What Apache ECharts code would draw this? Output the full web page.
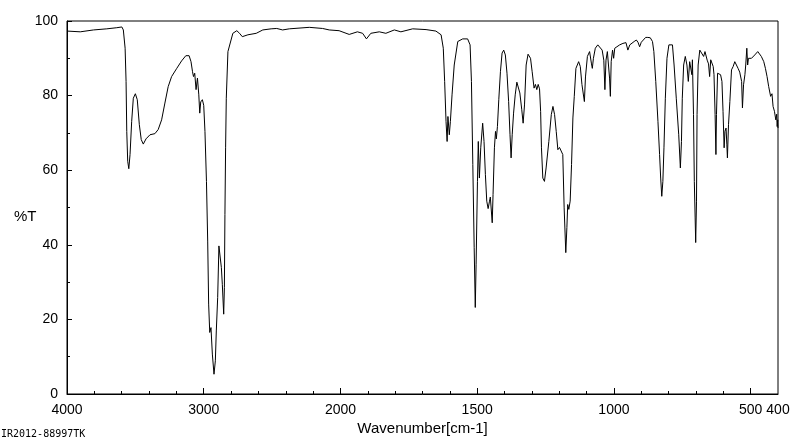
<!DOCTYPE html>
<html>
<head>
<meta charset="utf-8">
<script src="https://cdn.jsdelivr.net/npm/echarts@6/dist/echarts.min.js"></script>
<style>
  html, body { margin: 0; padding: 0; background: #fff; }
  #chart { width: 800px; height: 441px; }
</style>
</head>
<body>
<div id="chart"></div>
<script>
// IR spectrum: [wavenumber cm-1, %T]
let spectrum = [
  [4000, 97.3], [3903, 97.1], [3806, 97.6], [3709, 97.9], [3636, 98.2], [3599, 98.4],
  [3588, 97.6], [3575, 92.7], [3568, 83.8], [3563, 70.4], [3556, 62.4], [3548, 60.4],
  [3539, 64.2], [3527, 73.1], [3515, 79.3], [3500, 80.5], [3486, 78.9], [3471, 72.2],
  [3457, 68.2], [3442, 67.0], [3422, 68.4], [3393, 69.5], [3357, 69.8], [3333, 70.9],
  [3308, 73.5], [3284, 78.0], [3260, 82.4], [3235, 85.1], [3199, 87.2], [3162, 89.3],
  [3131, 90.7], [3107, 90.7], [3093, 89.1], [3082, 86.4], [3075, 85.1], [3066, 86.0],
  [3056, 81.6], [3046, 84.7], [3036, 80.2], [3029, 75.3], [3022, 78.3], [3010, 78.9],
  [3000, 77.4], [2991, 70.4], [2980, 57.0], [2971, 41.0], [2964, 24.1], [2956, 16.5],
  [2947, 17.8], [2937, 10.7], [2925, 5.3], [2915, 8.9], [2908, 16.9], [2898, 25.9],
  [2889, 39.7], [2878, 39.2], [2871, 33.9], [2864, 29.4], [2854, 21.4], [2849, 28.5],
  [2845, 48.1], [2840, 66.0], [2835, 79.3], [2823, 91.8], [2787, 96.7], [2758, 97.4],
  [2738, 96.7], [2718, 95.8], [2677, 96.3], [2616, 96.7], [2568, 97.6], [2507, 97.9],
  [2466, 98.0], [2423, 97.6], [2374, 97.9], [2228, 98.3], [2131, 98.0], [2082, 97.6],
  [2010, 97.4], [1968, 96.4], [1938, 97.1], [1919, 96.7], [1905, 95.2], [1889, 96.7],
  [1858, 97.1], [1834, 96.7], [1803, 97.6], [1779, 97.1], [1736, 97.9], [1687, 97.7],
  [1651, 97.3], [1632, 96.3], [1624, 92.7], [1619, 83.8], [1614, 73.1], [1610, 67.7],
  [1607, 74.4], [1602, 69.5], [1598, 73.1], [1592, 80.2], [1584, 88.2], [1571, 94.5],
  [1553, 95.2], [1535, 95.2], [1526, 93.6], [1521, 83.8], [1516, 61.5], [1511, 39.2],
  [1507, 23.2], [1504, 34.8], [1499, 57.0], [1496, 67.7], [1492, 57.9], [1487, 66.0],
  [1480, 72.6], [1475, 67.7], [1470, 58.8], [1465, 51.7], [1460, 49.7], [1455, 51.7],
  [1452, 52.8], [1445, 45.9], [1442, 53.5], [1437, 66.0], [1433, 70.4], [1430, 68.4],
  [1426, 71.7], [1421, 78.9], [1415, 86.4], [1409, 91.4], [1403, 92.2], [1397, 90.9],
  [1391, 86.0], [1385, 78.4], [1380, 69.5], [1376, 63.3], [1372, 69.5], [1367, 75.3],
  [1361, 80.2], [1355, 83.6], [1350, 83.8], [1344, 80.7], [1337, 76.2], [1332, 72.6],
  [1327, 77.5], [1321, 88.2], [1314, 91.1], [1305, 90.0], [1299, 86.4], [1292, 82.0],
  [1287, 83.0], [1282, 81.6], [1277, 83.0], [1272, 81.8], [1268, 75.7], [1265, 66.0],
  [1260, 57.9], [1254, 57.0], [1248, 60.6], [1238, 67.7], [1229, 74.9], [1223, 77.1],
  [1217, 74.9], [1211, 70.4], [1205, 65.5], [1199, 66.1], [1193, 66.4], [1187, 64.2],
  [1182, 49.9], [1176, 37.9], [1172, 44.6], [1169, 50.8], [1165, 49.5], [1160, 51.7],
  [1155, 61.5], [1150, 74.0], [1145, 79.8], [1139, 87.3], [1129, 89.1], [1123, 87.8],
  [1117, 83.0], [1108, 78.4], [1104, 85.0], [1097, 90.5], [1089, 91.8], [1082, 88.5],
  [1079, 87.3], [1075, 90.0], [1068, 92.7], [1059, 93.6], [1052, 93.4], [1043, 92.2],
  [1037, 89.5], [1033, 81.6], [1029, 89.5], [1024, 91.8], [1019, 91.6], [1016, 84.7],
  [1013, 79.8], [1010, 89.1], [1005, 92.2], [1001, 90.0], [997, 92.7], [989, 93.1],
  [979, 93.6], [967, 94.0], [956, 94.2], [949, 92.2], [942, 93.6], [926, 94.5],
  [918, 94.9], [912, 94.3], [906, 93.1], [900, 94.3], [884, 95.6], [876, 95.6],
  [867, 95.5], [859, 94.5], [854, 91.8], [847, 83.8], [839, 73.1], [833, 64.2],
  [829, 57.9], [825, 53.0], [821, 57.0], [817, 66.0], [812, 79.3], [806, 90.0],
  [799, 93.6], [792, 94.0], [786, 93.6], [780, 88.2], [772, 79.3], [763, 69.5],
  [757, 60.6], [753, 67.7], [750, 79.3], [745, 88.2], [739, 90.5], [733, 88.2],
  [728, 83.8], [723, 89.1], [718, 88.7], [715, 85.6], [713, 89.6], [709, 74.9],
  [706, 57.0], [703, 47.2], [701, 40.6], [698, 51.7], [696, 74.9], [692, 88.2],
  [686, 92.2], [680, 92.7], [672, 90.5], [667, 91.8], [659, 89.5], [654, 88.5],
  [650, 85.1], [646, 89.6], [641, 90.0], [637, 87.8], [634, 85.6], [630, 74.9],
  [627, 64.2], [625, 74.9], [621, 86.0], [617, 86.0], [610, 85.6], [605, 83.8],
  [601, 75.7], [597, 66.0], [594, 70.4], [590, 71.3], [587, 66.8], [585, 63.3],
  [581, 72.2], [576, 78.4], [570, 86.9], [564, 87.8], [558, 89.1], [552, 88.2],
  [546, 87.3], [540, 86.3], [533, 83.8], [530, 76.7], [526, 82.9], [521, 85.6],
  [518, 88.2], [514, 92.7], [511, 88.2], [508, 90.0], [503, 89.6], [497, 90.0],
  [485, 90.9], [474, 91.8], [467, 91.4], [461, 90.5], [452, 89.1], [446, 87.3],
  [440, 85.1], [434, 82.4], [427, 79.8], [422, 80.5], [418, 77.1], [413, 75.8],
  [408, 73.5], [405, 75.0], [403, 71.7], [401, 73.5], [400, 71.3]
]

// axis ticks (wavenumber)
let xLabels = [4000, 3000, 2000, 1500, 1000, 500, 400]
let xMajor = [4000, 3000, 2000, 1500, 1000, 500]
let xMinor = [3800, 3600, 3400, 3200, 2800, 2600, 2400, 2200,
  1900, 1800, 1700, 1600, 1400, 1300, 1200, 1100,
  900, 800, 700, 600]

// the scale doubles below 2000 cm-1
function toAxis(w) {
  return w >= 2000 ? (4000 - w) / 2 : 1000 + (2000 - w)
}
function fromAxis(t) {
  return t <= 1000 ? 4000 - 2 * t : 3000 - t
}

let font = '"Liberation Sans", Arial, sans-serif'
let chart = echarts.init(document.getElementById('chart'), null, { renderer: 'canvas' })

let option = {
  animation: false,
  backgroundColor: '#fff',
  grid: {
    left: 67, right: 22, top: 21, bottom: 46,
    show: true, borderColor: '#000', borderWidth: 1
  },
  xAxis: [
    {
      type: 'value', min: 0, max: 2600, position: 'bottom',
      axisLine: { lineStyle: { color: '#000', width: 1 } },
      axisTick: { inside: true, length: 3, customValues: xMinor.map(toAxis), lineStyle: { color: '#000' } },
      axisLabel: { show: false },
      splitLine: { show: false },
      name: 'Wavenumber[cm-1]',
      nameLocation: 'middle',
      nameGap: 27,
      nameTextStyle: { color: '#000', fontFamily: font, fontSize: 15 }
    },
    {
      type: 'value', min: 0, max: 2600, position: 'bottom',
      axisLine: { show: false },
      axisTick: { inside: true, length: 6, customValues: xMajor.map(toAxis), lineStyle: { color: '#000' } },
      axisLabel: {
        customValues: xLabels.map(toAxis),
        formatter: v => String(Math.round(fromAxis(v))),
        color: '#000', fontFamily: font, fontSize: 14, margin: 9
      },
      splitLine: { show: false }
    }
  ],
  yAxis: {
    type: 'value', min: 0, max: 100, interval: 20,
    axisLine: { show: true, lineStyle: { color: '#000', width: 1 } },
    axisTick: { inside: true, length: 5, lineStyle: { color: '#000' } },
    minorTick: { show: true, splitNumber: 2, length: 3, lineStyle: { color: '#000' } },
    axisLabel: { color: '#000', fontFamily: font, fontSize: 14, margin: 9 },
    splitLine: { show: false }
  },
  graphic: [
    {
      type: 'text', left: 14, top: 209,
      style: { text: '%T', fill: '#000', font: '15px "Liberation Sans", Arial, sans-serif' }
    },
    {
      type: 'text', left: 1, top: 429,
      style: { text: 'IR2012-88997TK', fill: '#000', font: '10px "DejaVu Sans Mono", monospace' }
    }
  ],
  series: [
    {
      type: 'line',
      xAxisIndex: 0,
      data: spectrum.map(p => [toAxis(p[0]), p[1]]),
      showSymbol: false,
      lineStyle: { color: '#000', width: 1 },
      silent: true
    }
  ]
}

chart.setOption(option)
</script>
</body>
</html>
